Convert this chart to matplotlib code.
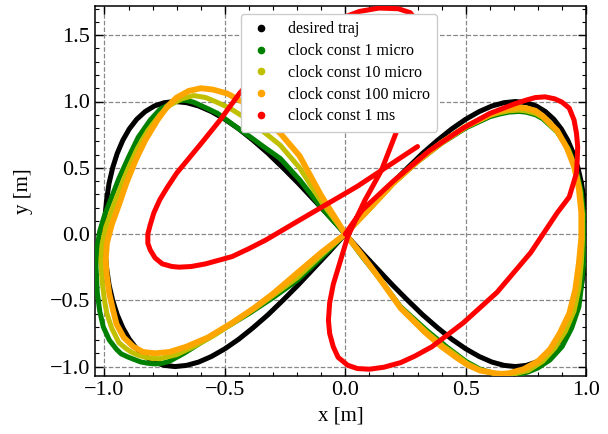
#!/usr/bin/env python3
# plot.py - figure-eight tracking for different clock constants

import numpy as np
import matplotlib.pyplot as plt
from matplotlib.lines import Line2D

# desired trajectory
desired_x = [0, .065, .131, .195, .259, .321, .383, .442, .5, .556, .609, .659, .707, .752,
             .793, .831, .866, .897, .924, .947, .966, .981, .991, .998, 1,
             .998, .991, .981, .966, .947, .924, .897, .866, .831, .793, .752, .707, .659,
             .609, .556, .5, .442, .383, .321, .259, .195, .131, .065, 0,
             -.065, -.131, -.195, -.259, -.321, -.383, -.442, -.5, -.556, -.609, -.659, -.707,
             -.752, -.793, -.831, -.866, -.897, -.924, -.947, -.966, -.981, -.991, -.998, -1,
             -.998, -.991, -.981, -.966, -.947, -.924, -.897, -.866, -.831, -.793, -.752, -.707,
             -.659, -.609, -.556, -.5, -.442, -.383, -.321, -.259, -.195, -.131, -.065, 0]
desired_y = [0, .131, .259, .383, .5, .609, .707, .793, .866, .924, .966, .991, 1,
             .991, .966, .924, .866, .793, .707, .609, .5, .383, .259, .131, 0,
             -.131, -.259, -.383, -.5, -.609, -.707, -.793, -.866, -.924, -.966, -.991, -1,
             -.991, -.966, -.924, -.866, -.793, -.707, -.609, -.5, -.383, -.259, -.131, 0,
             .131, .259, .383, .5, .609, .707, .793, .866, .924, .966, .991, 1,
             .991, .966, .924, .866, .793, .707, .609, .5, .383, .259, .131, 0,
             -.131, -.259, -.383, -.5, -.609, -.707, -.793, -.866, -.924, -.966, -.991, -1,
             -.991, -.966, -.924, -.866, -.793, -.707, -.609, -.5, -.383, -.259, -.131, 0]

# clock const 1 micro
c1u_x = [0, .10, .20, .30, .40, .50, .60, .64, .68, .72, .75, .79, .82, .88, .93, .96, .98,
         .99, .99, .99, .98, .97, .94, .90, .85, .80, .76, .72, .67, .63, .56, .50, .42, .34,
         .23, .14, .07, 0,
         -.10, -.19, -.27, -.34, -.40, -.47, -.53, -.57, -.60, -.63, -.665, -.70, -.72, -.77,
         -.81, -.86, -.90, -.94, -.97, -1.0, -1.02, -1.03, -1.035, -1.03, -1.02, -1.005, -.98,
         -.95, -.93, -.90, -.85, -.82, -.79, -.76, -.73, -.67, -.60, -.50, -.40, -.30, -.20,
         -.10, 0]
c1u_y = [0, .19, .385, .545, .685, .80, .885, .905, .92, .925, .92, .90, .87, .77, .63, .48, .32,
         .14, -.05, -.22, -.40, -.55, -.71, -.85, -.95, -1.01, -1.04, -1.06, -1.065, -1.06,
         -1.02, -.96, -.85, -.73, -.55, -.33, -.17, 0,
         .20, .41, .57, .66, .74, .83, .91, .945, .97, .995, 1.01, 1.005, .99, .94,
         .86, .73, .58, .42, .28, .14, .02, -.10, -.25, -.44, -.58, -.70, -.80,
         -.87, -.905, -.93, -.965, -.975, -.98, -.975, -.96, -.90, -.82, -.71, -.60, -.48, -.35,
         -.18, 0]

# clock const 10 micro
c10u_x = [0, .10, .20, .30, .40, .50, .60, .64, .68, .72, .75, .79, .82, .88, .925, .955, .975,
          .985, .985, .98, .97, .95, .915, .87, .82, .76, .70, .66, .63, .56, .505, .45, .41,
          .335, .23, .14, .07, 0,
          -.10, -.19, -.27, -.345, -.41, -.48, -.54, -.58, -.63, -.68, -.73, -.77, -.82,
          -.865, -.905, -.94, -.97, -.995, -1.01, -1.015, -1.01, -1.0, -.99, -.97, -.94,
          -.91, -.89, -.86, -.83, -.80, -.77, -.70, -.63, -.55, -.46, -.37, -.29, -.20, -.10, 0]
c10u_y = [0, .19, .385, .55, .69, .81, .895, .915, .93, .935, .93, .91, .88, .77, .64, .50, .33,
          .15, -.04, -.22, -.41, -.58, -.73, -.86, -.96, -1.03, -1.055, -1.06, -1.055, -1.025,
          -.975, -.90, -.85, -.735, -.555, -.33, -.165, 0,
          .245, .50, .67, .78, .87, .95, 1.0, 1.03, 1.045, 1.02, .97, .90, .78,
          .64, .48, .32, .18, .05, -.08, -.20, -.35, -.50, -.60, -.71, -.82,
          -.865, -.89, -.915, -.93, -.94, -.94, -.91, -.85, -.77, -.665, -.555, -.45, -.33, -.16, 0]

# clock const 100 micro
c100u_x = [0, .10, .20, .30, .40, .50, .60, .64, .68, .72, .75, .79, .82, .88, .92, .95, .97,
           .98, .98, .97, .955, .93, .89, .85, .80, .74, .68, .65, .62, .56, .51, .46, .40, .33,
           .23, .14, .07, 0,
           -.10, -.19, -.27, -.35, -.42, -.49, -.55, -.60, -.65, -.70, -.74, -.78, -.83,
           -.87, -.91, -.94, -.97, -.99, -.995, -.99, -.98, -.965, -.95, -.92, -.88,
           -.84, -.79, -.73, -.66, -.57, -.47, -.38, -.30, -.21, -.10, 0]
c100u_y = [0, .19, .385, .55, .69, .81, .90, .93, .945, .955, .95, .93, .89, .78, .65, .51, .34,
           .16, -.03, -.22, -.42, -.60, -.75, -.87, -.96, -1.02, -1.05, -1.055, -1.05, -1.03,
           -.99, -.93, -.85, -.74, -.56, -.33, -.16, 0,
           .29, .59, .76, .89, .99, 1.06, 1.09, 1.10, 1.08, 1.03, .96, .86, .71,
           .56, .38, .22, .07, -.07, -.20, -.32, -.45, -.57, -.68, -.78, -.85,
           -.89, -.90, -.89, -.85, -.78, -.67, -.56, -.45, -.31, -.14, 0]

# clock const 1 ms
c1m_x = [0, .03, .07, .20, .35, .49, .60, .70, .75, .79, .83, .87, .90, .93, .95, .96, .965,
         .963, .96, .945, .93, .88, .77, .63, .49, .36, .29, .23, .16, .10, .05, .01, -.03,
         -.05, -.065, -.07, -.065, -.05, .01, .08, .15, .21, .26, .29, .305, .30, .27, .22,
         .14, .06, 0, -.10, -.20, -.30, -.38, -.44, -.48, -.52, -.56, -.60, -.65, -.70, -.74,
         -.77, -.795, -.81, -.82, -.82, -.81, -.79, -.76, -.72, -.69, -.64, -.58, -.52, -.47,
         -.40, -.33, -.26, -.19, .05, .30]
c1m_y = [0, .08, .18, .40, .63, .80, .91, .98, 1.01, 1.03, 1.035, 1.02, .995, .95, .86, .76, .66,
         .56, .46, .37, .28, .16, -.14, -.44, -.67, -.85, -.92, -.97, -1.005, -1.02, -1.015,
         -.99, -.93, -.85, -.75, -.65, -.52, -.38, -.02, .25, .48, .76, 1.05, 1.30, 1.50, 1.60,
         1.67, 1.70, 1.705, 1.68, 1.64, 1.56, 1.45, 1.32, 1.18, 1.06, .96, .86, .77, .68,
         .57, .46, .35, .26, .16, .07, 0, -.07, -.12, -.18, -.225, -.245, -.25, -.245, -.225,
         -.195, -.17, -.11, -.045, .03, .105, .36, .66]

labels = ["desired traj", "clock const 1 micro", "clock const 10 micro",
          "clock const 100 micro", "clock const 1 ms"]
colors = ["black", "green", "#c0c000", "orange", "red"]


def plot(ax):
    series = [(desired_x, desired_y, 3.6), (c1u_x, c1u_y, 3.6), (c10u_x, c10u_y, 3.6),
              (c100u_x, c100u_y, 4.2), (c1m_x, c1m_y, 3.6)]
    for i, (x, y, lw) in enumerate(series):
        ax.plot(x, y, color=colors[i], lw=lw, solid_joinstyle="round",
                solid_capstyle="round", zorder=2 + i)

    ax.set_xlim(-1.04, 1.0)
    ax.set_ylim(-1.07, 1.72)
    ax.set_xticks(np.arange(-1.0, 1.01, 0.5))
    ax.set_yticks(np.arange(-1.0, 1.51, 0.5))
    ax.xaxis.set_minor_locator(plt.MultipleLocator(0.1))
    ax.yaxis.set_minor_locator(plt.MultipleLocator(0.1))
    ax.tick_params(which="both", direction="in", top=True, right=True, labelsize=16)
    ax.tick_params(which="major", length=6, width=1)
    ax.tick_params(which="minor", length=3, width=0.8)
    ax.grid(True, which="major", ls="--", color="#888888", lw=0.9)
    for s in ax.spines.values():
        s.set_linewidth(1.1)

    ax.set_xlabel("x [m]", fontsize=15, labelpad=5)
    ax.set_ylabel("y [m]", fontsize=15, labelpad=12)

    handles = [Line2D([], [], ls="", marker="o", ms=4.5, color=c) for c in colors]
    leg = ax.legend(handles, labels, loc="upper left", bbox_to_anchor=(0.297, 0.978),
                    borderaxespad=0, fontsize=11.5, framealpha=1, labelspacing=0.36,
                    handlelength=1.6, handletextpad=0.9, borderpad=0.45)
    leg.get_frame().set_edgecolor("#cccccc")
    leg.set_zorder(10)


def main():
    plt.rcParams["font.family"] = ["Liberation Serif", "DejaVu Serif"]
    plt.rcParams["axes.unicode_minus"] = True
    fig = plt.figure(figsize=(6.08, 4.34), dpi=100)
    ax = fig.add_subplot(111)
    fig.subplots_adjust(left=0.156, right=0.964, top=0.986, bottom=0.134)

    plot(ax)

    fig.savefig("out.png", dpi=100)


if __name__ == "__main__":
    main()
